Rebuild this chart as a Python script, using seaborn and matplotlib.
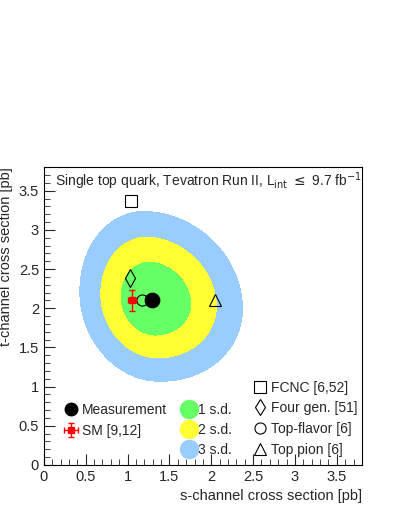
import numpy as np
import matplotlib
matplotlib.use("Agg")
import matplotlib.pyplot as plt
from matplotlib.lines import Line2D
from matplotlib.ticker import MultipleLocator
import seaborn as sns

sns.set_style("ticks")
plt.rcParams['font.family'] = ['Liberation Sans', 'DejaVu Sans']

meas_s, meas_t = 1.29, 2.10
sig_s_lo, sig_s_hi = 0.25, 0.315
sig_t_lo, sig_t_hi = 0.30, 0.33
rho = -0.1

# SM prediction
sm_s, sm_t = 1.05, 2.10
sm_err_s, sm_err_t = 0.05, 0.13

# new physics models
models = ["FCNC [6,52]", "Four gen. [51]", "Top-flavor [6]", "Top pion [6]"]
model_s = [1.04, 1.03, 1.17, 2.05]
model_t = [3.37, 2.38, 2.10, 2.10]
model_markers = ["s", "d", "o", "^"]

# 2D chi2 levels for 1,2,3 s.d.
levels = [2.30, 6.18, 11.83]
level_labels = ["1 s.d.", "2 s.d.", "3 s.d."]
level_colors = ["#66ff66", "#ffff33", "#99ccff"]

fig = plt.figure(figsize=(3.99, 5.16), dpi=100)
ax = fig.add_axes([0.110, 0.099, 0.797, 0.577])

s = np.linspace(0, 3.8, 400)
t = np.linspace(0, 3.8, 400)
S, T = np.meshgrid(s, t)
u = np.where(S > meas_s, (S - meas_s) / sig_s_hi, (S - meas_s) / sig_s_lo)
v = np.where(T > meas_t, (T - meas_t) / sig_t_hi, (T - meas_t) / sig_t_lo)
chi2 = (u**2 - 2 * rho * u * v + v**2) / (1 - rho**2)
ax.contourf(S, T, chi2, levels=[0] + levels, colors=level_colors)

sns.scatterplot(x=[meas_s], y=[meas_t], color="black", s=110, ax=ax,
                edgecolor="black", zorder=5)
sm_h = ax.errorbar(sm_s, sm_t, xerr=sm_err_s, yerr=sm_err_t, fmt="s", color="red",
                   ms=5, capsize=2, elinewidth=1, zorder=6)
for xs, yt, mk in zip(model_s, model_t, model_markers):
    ax.plot(xs, yt, marker=mk, ms=8 if mk != "d" else 9, mfc="none",
            mec="black", mew=0.8, ls="none", zorder=5)

ax.set_xlim(0, 3.8)
ax.set_ylim(0, 3.8)
ax.xaxis.set_major_locator(MultipleLocator(0.5))
ax.yaxis.set_major_locator(MultipleLocator(0.5))
ax.xaxis.set_minor_locator(MultipleLocator(0.1))
ax.yaxis.set_minor_locator(MultipleLocator(0.1))
ax.xaxis.set_major_formatter(plt.FuncFormatter(lambda x, p: f"{x:g}"))
ax.yaxis.set_major_formatter(plt.FuncFormatter(lambda x, p: f"{x:g}"))
ax.tick_params(which="major", direction="in", length=8, width=0.8, labelsize=10.5)
ax.tick_params(which="minor", direction="in", length=4, width=0.6)
for sp in ax.spines.values():
    sp.set_linewidth(0.8)
    sp.set_color("black")

ax.set_xlabel("s-channel cross section [pb]", loc="right", fontsize=10.5)
ax.set_ylabel("t-channel cross section [pb]", loc="top", fontsize=10.5)

ax.text(0.035, 0.99, r"Single top quark, Tevatron Run II, L$_{\rm int}$ $\leq$ 9.7 fb$^{-1}$",
        transform=ax.transAxes, fontsize=10, va="top", ha="left")

h1 = [Line2D([], [], marker="o", color="black", ms=9, ls="none"), sm_h]
leg1 = ax.legend(h1, ["Measurement", "SM [9,12]"], loc="upper left",
                 bbox_to_anchor=(0.02, 0.25), frameon=False, fontsize=10,
                 handletextpad=0.2, labelspacing=0.5, handlelength=1.2)
ax.add_artist(leg1)
h2 = [Line2D([], [], marker="o", color=c, ms=13, ls="none") for c in level_colors]
leg2 = ax.legend(h2, level_labels, loc="upper left", bbox_to_anchor=(0.39, 0.25),
                 frameon=False, fontsize=10, handletextpad=0.1,
                 labelspacing=0.42, handlelength=1.2)
ax.add_artist(leg2)
h3 = [Line2D([], [], marker=m, mfc="none", mec="black", ms=8, mew=0.8, ls="none")
      for m in model_markers]
ax.legend(h3, models, loc="upper left", bbox_to_anchor=(0.615, 0.325),
          frameon=False, fontsize=10, handletextpad=0.2, labelspacing=0.48,
          handlelength=1.2)

fig.savefig("out.png", dpi=100)
